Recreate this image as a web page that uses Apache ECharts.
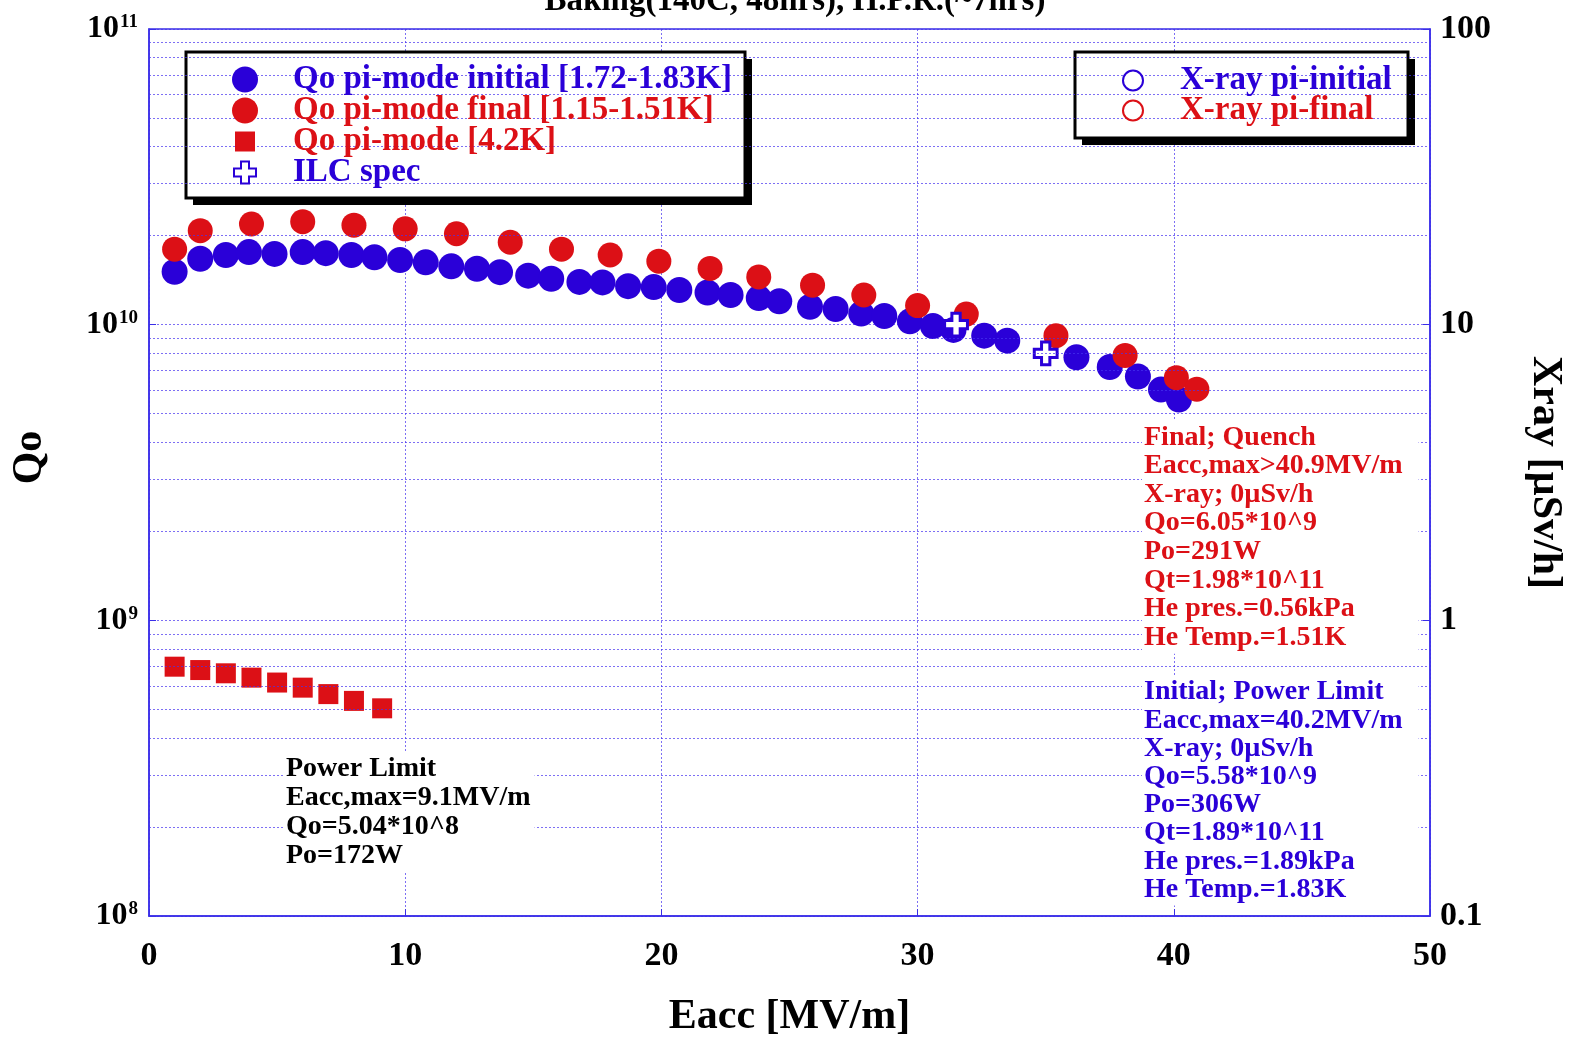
<!DOCTYPE html>
<html><head><meta charset="utf-8">
<script src="https://cdn.jsdelivr.net/npm/echarts@6/dist/echarts.min.js"></script>
<style>html,body{margin:0;padding:0;background:#fff}#c{width:1574px;height:1043px}</style>
</head><body><div id="c"></div>
<script>
// ---- data ----
const eaccInitial = [1.0, 2.0, 3.0, 3.9, 4.9, 6.0, 6.9, 7.9, 8.8, 9.8, 10.8, 11.8, 12.8, 13.7, 14.8, 15.7, 16.8, 17.7, 18.7, 19.7, 20.7, 21.8, 22.7, 23.8, 24.6, 25.8, 26.8, 27.8, 28.7, 29.7, 30.6, 31.4, 32.6, 33.5, 36.2, 37.5, 38.6, 39.5, 40.2];
const qoInitial = [1.51e10, 1.67e10, 1.72e10, 1.76e10, 1.735e10, 1.76e10, 1.745e10, 1.72e10, 1.69e10, 1.655e10, 1.625e10, 1.575e10, 1.545e10, 1.505e10, 1.465e10, 1.43e10, 1.395e10, 1.39e10, 1.35e10, 1.34e10, 1.31e10, 1.285e10, 1.26e10, 1.23e10, 1.20e10, 1.15e10, 1.13e10, 1.09e10, 1.07e10, 1.026e10, 9.9e9, 9.6e9, 9.18e9, 8.83e9, 7.76e9, 7.19e9, 6.68e9, 6.03e9, 5.58e9];
const eaccFinal = [1.0, 2.0, 4.0, 6.0, 8.0, 10.0, 12.0, 14.1, 16.1, 18.0, 19.9, 21.9, 23.8, 25.9, 27.9, 30.0, 31.9, 35.4, 38.1, 40.1, 40.9];
const qoFinal = [1.80e10, 2.08e10, 2.19e10, 2.23e10, 2.17e10, 2.11e10, 2.03e10, 1.90e10, 1.80e10, 1.72e10, 1.64e10, 1.55e10, 1.45e10, 1.36e10, 1.26e10, 1.16e10, 1.086e10, 9.18e9, 7.87e9, 6.62e9, 6.05e9];
const eacc42K = [1, 2, 3, 4, 5, 6, 7, 8, 9.1];
const qo42K = [6.97e8, 6.79e8, 6.62e8, 6.40e8, 6.16e8, 5.92e8, 5.63e8, 5.34e8, 5.04e8];
const eaccILC = [31.5, 35.0];
const qoILC = [1.0e10, 8.0e9];
const xrayInitial = [];   // 0 µSv/h throughout
const xrayFinal = [];
const qoTickLabels = {8: '8', 9: '9', 10: '10', 11: '11'};
const xrayTickLabels = {'-1': '0.1', 0: '1', 1: '10', 2: '100'};
const minorMantissas = [2, 3, 4, 5, 6, 7, 8, 9];
const decades = [1e8, 1e9, 1e10];
const xTicks = [0, 10, 20, 30, 40, 50];

const names = ['Qo pi-mode initial [1.72-1.83K]', 'Qo pi-mode final [1.15-1.51K]', 'Qo pi-mode [4.2K]', 'ILC spec', 'X-ray pi-initial', 'X-ray pi-final'];
const annotation42K = ['Power Limit', 'Eacc,max=9.1MV/m', 'Qo=5.04*10^8', 'Po=172W'];
const annotationFinal = ['Final; Quench', 'Eacc,max>40.9MV/m', 'X-ray; 0\u00b5Sv/h', 'Qo=6.05*10^9', 'Po=291W', 'Qt=1.98*10^11', 'He pres.=0.56kPa', 'He Temp.=1.51K'];
const annotationInitial = ['Initial; Power Limit', 'Eacc,max=40.2MV/m', 'X-ray; 0\u00b5Sv/h', 'Qo=5.58*10^9', 'Po=306W', 'Qt=1.89*10^11', 'He pres.=1.89kPa', 'He Temp.=1.83K'];

// ---- style ----
const BLUE = '#2a00d8', RED = '#dc1016', FRAME = '#3a2ee8';
const FONT = '"Liberation Serif", "Times New Roman", serif';
const GRID = 'rgba(70,50,240,0.7)';
const zip = (a, b) => a.map((v, i) => [v, b[i]]);
const minorQ = [];
decades.forEach(d => minorMantissas.forEach(m => minorQ.push(m * d)));
const SQUARE = 'path://M0,0M26,26M3,3H23V23H3Z';
const PLUS = 'path://M0,0M26,26M9,2H17V9H24V17H17V24H9V17H2V9H9Z';

const chart = echarts.init(document.getElementById('c'), null, {renderer: 'canvas'});
const lblBase = {fontFamily: FONT, fontWeight: 'bold', color: '#000'};
const boxRect = (x, y, w, h) => [
  {type: 'rect', z: 5, silent: true, shape: {x: x + 7, y: y + 7, width: w, height: h}, style: {fill: '#000'}},
  {type: 'rect', z: 5, silent: true, shape: {x: x, y: y, width: w, height: h}, style: {fill: '#fff', stroke: '#000', lineWidth: 3}}
];
chart.setOption({
  animation: false,
  backgroundColor: '#fff',
  grid: {left: 149, right: 144, top: 29, bottom: 122, show: true, borderColor: FRAME, borderWidth: 1.5, backgroundColor: 'transparent'},
  xAxis: {
    type: 'value', min: xTicks[0], max: xTicks[xTicks.length - 1], interval: 10,
    name: 'Eacc [MV/m]', nameLocation: 'middle', nameGap: 80,
    nameTextStyle: Object.assign({}, lblBase, {fontSize: 42}),
    axisLine: {lineStyle: {color: FRAME, width: 1.5}},
    axisTick: {inside: true, length: 7, lineStyle: {color: FRAME}},
    axisLabel: Object.assign({}, lblBase, {fontSize: 34, margin: 23}),
    splitLine: {show: true, lineStyle: {color: GRID, type: [2, 2], width: 1}}
  },
  yAxis: [{
    type: 'log', logBase: 10, min: 1e8, max: 1e11, position: 'left',
    name: 'Qo', nameLocation: 'middle', nameGap: 98,
    nameTextStyle: Object.assign({}, lblBase, {fontSize: 42, padding: [0, 0, 0, 30]}),
    axisLine: {show: true, lineStyle: {color: FRAME, width: 1.5}},
    axisTick: {show: true, inside: true, length: 7, lineStyle: {color: FRAME}},
    axisLabel: {
      margin: 11,
      formatter: v => '{b|10}{s|' + qoTickLabels[Math.round(Math.log10(v))] + '}',
      rich: {
        b: Object.assign({}, lblBase, {fontSize: 32, lineHeight: 32}),
        s: Object.assign({}, lblBase, {fontSize: 19, lineHeight: 32, verticalAlign: 'top', padding: [0, 0, 14, 1]})
      }
    },
    splitLine: {show: true, lineStyle: {color: GRID, type: [2, 2], width: 1}}
  }, {
    type: 'log', logBase: 10, min: 0.1, max: 100, position: 'right',
    name: 'Xray [\u00b5Sv/h]', nameLocation: 'middle', nameGap: 94, nameRotate: -90,
    nameTextStyle: Object.assign({}, lblBase, {fontSize: 42}),
    axisLine: {show: true, lineStyle: {color: FRAME, width: 1.5}},
    axisTick: {show: true, inside: true, length: 7, lineStyle: {color: FRAME}},
    axisLabel: Object.assign({}, lblBase, {fontSize: 34, margin: 10,
      formatter: v => xrayTickLabels[Math.round(Math.log10(v))]}),
    splitLine: {show: false}
  }],
  legend: [{
    orient: 'vertical', left: 186, top: 52, padding: [11, 13, 12, 45], itemGap: -2, z: 6,
    itemWidth: 28, itemHeight: 26, backgroundColor: 'transparent', borderWidth: 0,
    textStyle: {fontFamily: FONT, fontWeight: 'bold', fontSize: 33, lineHeight: 28, padding: [0, 0, 0, 29]},
    data: [
      {name: names[0], textStyle: {color: BLUE}},
      {name: names[1], textStyle: {color: RED}},
      {name: names[2], textStyle: {color: RED}},
      {name: names[3], textStyle: {color: BLUE}}
    ]
  }, {
    orient: 'vertical', left: 1078, top: 52, padding: [12, 16, 14, 44], itemGap: -3, z: 6,
    itemWidth: 28, itemHeight: 20, backgroundColor: 'transparent', borderWidth: 0,
    textStyle: {fontFamily: FONT, fontWeight: 'bold', fontSize: 33, lineHeight: 28, padding: [0, 0, 0, 28]},
    data: [
      {name: names[4], textStyle: {color: BLUE}},
      {name: names[5], textStyle: {color: RED}}
    ]
  }],
  graphic: [].concat(
    boxRect(186, 52, 559, 146),
    boxRect(1075, 52, 333, 86),
    [
      {type: 'text', z: 100, x: 795, y: -15,
        style: {text: 'Baking(140C, 48hrs), H.P.R.(~7hrs)', font: 'bold 33px ' + FONT, fill: '#000', textAlign: 'center', textVerticalAlign: 'top'}},
      {type: 'text', z: 100, x: 284, y: 752,
        style: {text: annotation42K.join('\n'), font: 'bold 28px ' + FONT, fill: '#000', lineHeight: 29, backgroundColor: '#fff', padding: [2, 4, 2, 2]}},
      {type: 'text', z: 100, x: 1142, y: 421,
        style: {text: annotationFinal.join('\n'), font: 'bold 28px ' + FONT, fill: RED, lineHeight: 28.6, backgroundColor: '#fff', padding: [2, 16, 2, 2]}},
      {type: 'text', z: 100, x: 1142, y: 676,
        style: {text: annotationInitial.join('\n'), font: 'bold 28px ' + FONT, fill: BLUE, lineHeight: 28.2, backgroundColor: '#fff', padding: [2, 16, 2, 2]}}
    ]
  ),
  series: [
    {type: 'line', name: '_minorgrid', data: [], yAxisIndex: 0, silent: true, z: 0,
      markLine: {silent: true, symbol: ['none', 'none'], label: {show: false}, animation: false,
        lineStyle: {color: GRID, type: [2, 2], width: 1},
        emphasis: {disabled: true},
        data: minorQ.map(v => ({yAxis: v}))}},
    {type: 'scatter', name: names[0], data: zip(eaccInitial, qoInitial), symbol: 'circle', symbolSize: 26, z: 2,
      itemStyle: {color: BLUE, opacity: 1}},
    {type: 'scatter', name: names[1], data: zip(eaccFinal, qoFinal), symbol: 'circle', symbolSize: 25, z: 3,
      itemStyle: {color: RED, opacity: 1}},
    {type: 'scatter', name: names[2], data: zip(eacc42K, qo42K), symbol: SQUARE, symbolSize: 26, z: 3,
      itemStyle: {color: RED, opacity: 1}},
    {type: 'scatter', name: names[3], data: zip(eaccILC, qoILC), symbol: PLUS, symbolSize: 27, z: 4,
      itemStyle: {color: '#fff', borderColor: BLUE, borderWidth: 3, opacity: 1}},
    {type: 'scatter', name: names[4], data: xrayInitial, yAxisIndex: 1, symbol: 'emptyCircle', symbolSize: 20,
      itemStyle: {color: BLUE, borderColor: BLUE, borderWidth: 2, opacity: 1}},
    {type: 'scatter', name: names[5], data: xrayFinal, yAxisIndex: 1, symbol: 'emptyCircle', symbolSize: 20,
      itemStyle: {color: RED, borderColor: RED, borderWidth: 2, opacity: 1}}
  ]
});
</script></body></html>
